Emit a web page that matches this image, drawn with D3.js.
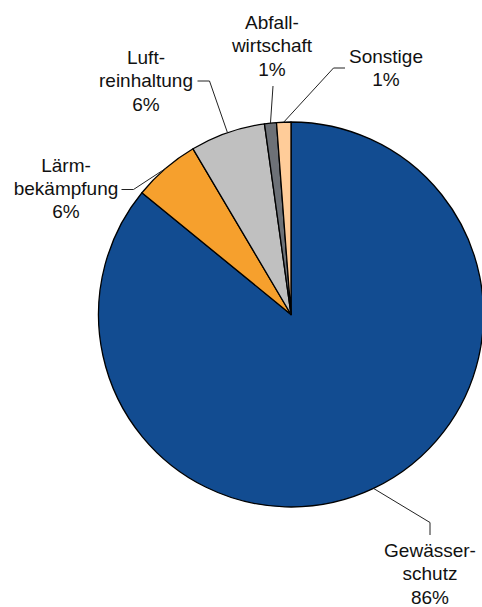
<!DOCTYPE html>
<html><head><meta charset="utf-8">
<script src="https://cdn.jsdelivr.net/npm/d3@7"></script>
<style>html,body{margin:0;padding:0;background:#fff;}svg{display:block;}</style>
</head><body>
<svg id="c" width="482" height="607"></svg>
<script>
const categories = ["Gewässerschutz", "Lärmbekämpfung", "Luftreinhaltung", "Abfallwirtschaft", "Sonstige"];
const labelLines = [["Gewässer-", "schutz"], ["Lärm-", "bekämpfung"], ["Luft-", "reinhaltung"], ["Abfall-", "wirtschaft"], ["Sonstige"]];
const values = [85.9, 5.6, 6.3, 1.0, 1.2];
const colors = ["#124C91", "#F6A02D", "#C0C0C0", "#6D7177", "#FFCC99"];

// label layout: elbow point, end point of leader, text center x, first baseline y
const layout = [
  {elbow:[430,522.5], end:[430,535], tx:430, ty:557},
  {elbow:[133.5,189.5], end:[121.5,189.5], tx:66, ty:171.5},
  {elbow:[209.5,81], end:[197.5,81], tx:146, ty:64},
  {elbow:[273,86], end:[273,86], tx:272, ty:29},
  {elbow:[333.5,68], end:[345,68], tx:386, ty:62.5}
];

const svg = d3.select("#c");
const cx = 291, cy = 314.5, R = 192.5;
const g = svg.append("g").attr("transform", `translate(${cx},${cy})`);
const pie = d3.pie().sort(null).value(d => d)(values);
const arc = d3.arc().innerRadius(0).outerRadius(R);
g.selectAll("path").data(pie).join("path")
  .attr("d", arc)
  .attr("fill", (d,i) => colors[i])
  .attr("stroke", "#000")
  .attr("stroke-width", 1.3)
  .attr("stroke-linejoin", "round");

const edge = d3.arc().innerRadius(R).outerRadius(R);
pie.forEach((d,i) => {
  const p = edge.centroid(d);
  const sx = p[0] + cx, sy = p[1] + cy;
  const L = layout[i];
  svg.append("polyline")
    .attr("points", [[sx,sy], L.elbow, L.end].map(q => q.join(",")).join(" "))
    .attr("fill", "none").attr("stroke", "#222").attr("stroke-width", 1);
  const lines = labelLines[i].concat([Math.round(values[i]) + "%"]);
  const t = svg.append("text")
    .attr("text-anchor", "middle")
    .attr("font-family", "Liberation Sans, Arial, sans-serif")
    .attr("font-size", 19)
    .attr("fill", "#111");
  lines.forEach((s,k) => {
    t.append("tspan").attr("x", L.tx).attr("y", L.ty + k*23.3).text(s);
  });
});
</script>
</body></html>
